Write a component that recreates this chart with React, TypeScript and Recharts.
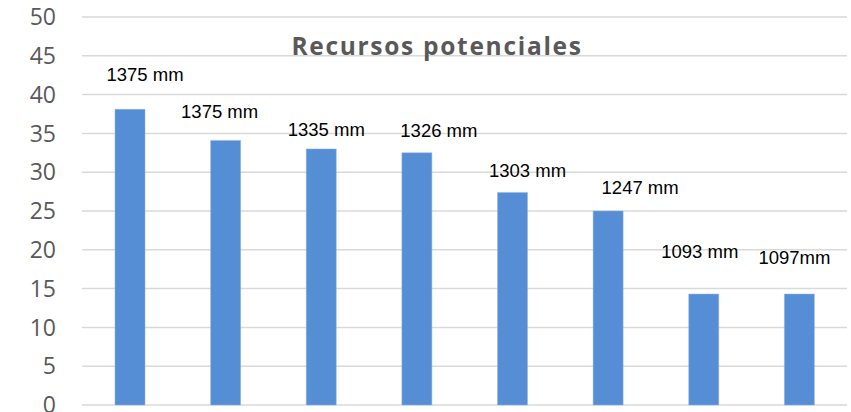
import React from 'react';
import { BarChart, Bar, XAxis, YAxis, CartesianGrid, LabelList } from 'recharts';

const categories = ['A', 'B', 'C', 'D', 'E', 'F', 'G', 'H'];
const values = [38.1, 34.1, 33.0, 32.5, 27.4, 25.0, 14.3, 14.3];
const barLabels = ['1375 mm', '1375 mm', '1335 mm', '1326 mm', '1303 mm', '1247 mm', '1093 mm', '1097mm'];
const yTicks = [0, 5, 10, 15, 20, 25, 30, 35, 40, 45, 50];

// label nudges (dx, distance of baseline above bar top)
const labelDx = [15, -6, 5, 22, 15, 32, -4, -5];
const labelLift = [28, 22, 13, 16, 15, 17, 36, 30];

const data = categories.map((c, i) => ({ name: c, value: values[i], label: barLabels[i] }));

const renderLabel = (props: any) => {
  const { x, y, width, index, value } = props;
  return (
    <text
      x={x + width / 2 + labelDx[index]}
      y={y - labelLift[index]}
      textAnchor="middle"
      fontFamily="'Liberation Sans', Arial, sans-serif"
      fontSize={18.5}
      fill="#000"
    >
      {value}
    </text>
  );
};

export default function App() {
  return (
    <div style={{ position: 'absolute', left: 0, top: 0, width: 851, height: 412, background: '#fff' }}>
      <BarChart
        width={851}
        height={412}
        data={data}
        margin={{ top: 17, right: 4, bottom: 7, left: 0 }}
        barCategoryGap={0}
      >
        <CartesianGrid vertical={false} stroke="#d9d9d9" strokeWidth={1.5} />
        <XAxis dataKey="name" hide />
        <YAxis
          width={82}
          domain={[0, 50]}
          ticks={yTicks}
          interval={0}
          axisLine={false}
          tickLine={false}
          tickMargin={20}
          tick={{ fill: '#595959', fontSize: 23, fontFamily: "'Open Sans', sans-serif" }}
        />
        <Bar dataKey="value" fill="#558ed5" stroke="#8fb4e3" strokeWidth={0.5} barSize={30} isAnimationActive={false}>
          <LabelList dataKey="label" content={renderLabel} />
        </Bar>
        <text
          x={437}
          y={55}
          textAnchor="middle"
          fontFamily="'Open Sans', sans-serif"
          fontWeight="bold"
          fontSize={24.5}
          letterSpacing={1.7}
          fill="#595959"
        >
          Recursos potenciales
        </text>
      </BarChart>
    </div>
  );
}
